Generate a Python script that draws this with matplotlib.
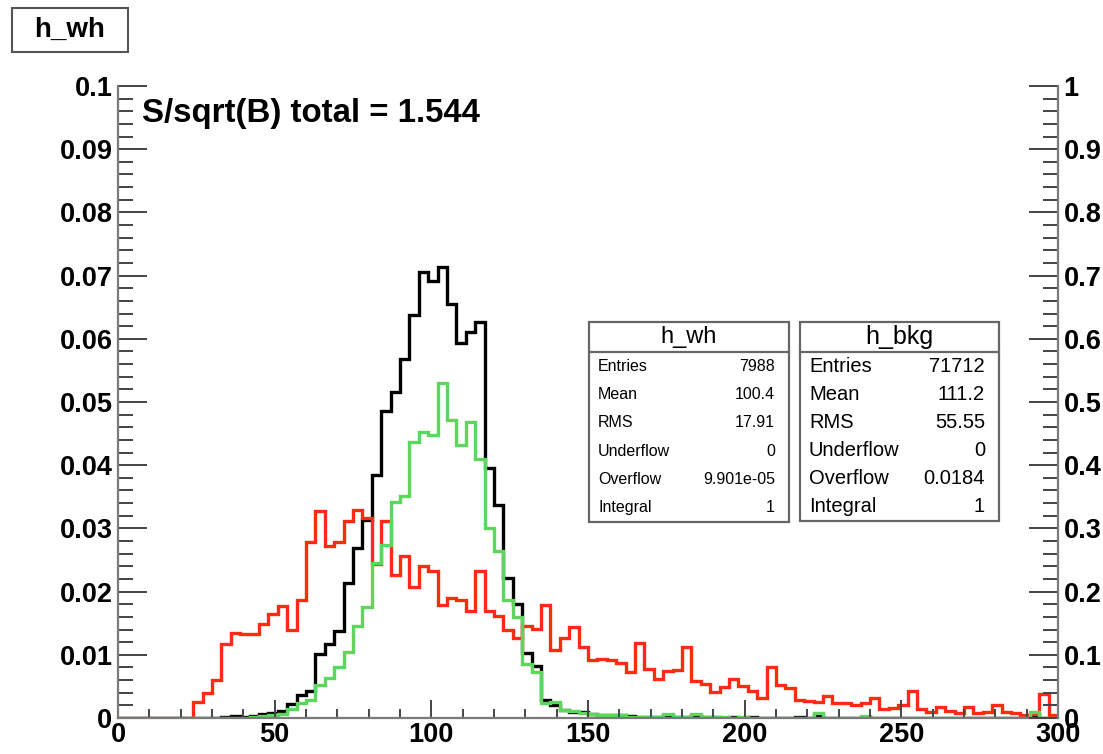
import numpy as np
import matplotlib
matplotlib.use('Agg')
import matplotlib.pyplot as plt
from matplotlib.patches import Rectangle
from matplotlib.lines import Line2D
from matplotlib.ticker import MultipleLocator, FuncFormatter

plt.rcParams['font.family'] = ['Liberation Sans', 'DejaVu Sans']

# binning: 100 bins of width 3 from 0 to 300
x_min, x_max, n_bins = 0, 300, 100

# normalised signal (black)
h_wh = [
    0, 0, 0, 0, 0, 0, 0, 0, 0, 0,
    0, 0.0001, 0.0003, 0.0002, 0.0003, 0.0007, 0.0008, 0.0011, 0.0022, 0.0036,
    0.0042, 0.0102, 0.0117, 0.0138, 0.0213, 0.0269, 0.0314, 0.0384, 0.0485, 0.0516,
    0.0568, 0.0637, 0.0706, 0.0691, 0.0713, 0.0655, 0.0594, 0.0611, 0.0626, 0.0395,
    0.0337, 0.0221, 0.0180, 0.0103, 0.0082, 0.0028, 0.0021, 0.0013, 0.0010, 0.0009,
    0.0006, 0.0005, 0.0005, 0.0004, 0.0003, 0.0002, 0.0002, 0.0001, 0.0003, 0.0001,
    0.0001, 0.0003, 0.0001, 0.0001, 0, 0.0001, 0, 0.0001, 0, 0,
    0, 0, 0.0001, 0, 0.0004, 0, 0, 0, 0, 0.0001,
    0, 0, 0, 0, 0, 0, 0, 0, 0, 0,
    0, 0, 0, 0, 0, 0, 0, 0.0004, 0, 0,
]

# normalised background (red)
h_bkg = [
    0, 0, 0, 0, 0, 0, 0, 0, 0.0025, 0.0040,
    0.0060, 0.0117, 0.0135, 0.0133, 0.0133, 0.0148, 0.0165, 0.0178, 0.0140, 0.0187,
    0.0279, 0.0327, 0.0272, 0.0278, 0.0311, 0.0329, 0.0316, 0.0243, 0.0311, 0.0227,
    0.0256, 0.0208, 0.0240, 0.0232, 0.0179, 0.0190, 0.0187, 0.0169, 0.0232, 0.0170,
    0.0162, 0.0140, 0.0126, 0.0145, 0.0141, 0.0179, 0.0107, 0.0127, 0.0144, 0.0112,
    0.0091, 0.0093, 0.0091, 0.0087, 0.0072, 0.0119, 0.0078, 0.0062, 0.0074, 0.0076,
    0.0112, 0.0058, 0.0054, 0.0041, 0.0049, 0.0061, 0.0050, 0.0042, 0.0032, 0.0081,
    0.0053, 0.0048, 0.0028, 0.0027, 0.0025, 0.0035, 0.0024, 0.0023, 0.0020, 0.0023,
    0.0031, 0.0015, 0.0016, 0.0020, 0.0042, 0.0015, 0.0010, 0.0018, 0.0011, 0.0008,
    0.0017, 0.0008, 0.0010, 0.0021, 0.0010, 0.0008, 0.0005, 0.0007, 0.0038, 0.0004,
]

# signal after selection (green)
h_wh_sel = [
    0, 0, 0, 0, 0, 0, 0, 0, 0, 0,
    0, 0, 0, 0, 0.0001, 0.0003, 0.0004, 0.0006, 0.0014, 0.0024,
    0.0028, 0.0053, 0.0064, 0.0080, 0.0105, 0.0145, 0.0175, 0.0246, 0.0274, 0.0341,
    0.0351, 0.0437, 0.0453, 0.0447, 0.0530, 0.0472, 0.0432, 0.0469, 0.0410, 0.0300,
    0.0264, 0.0187, 0.0160, 0.0086, 0.0073, 0.0023, 0.0025, 0.0013, 0.0011, 0.0008,
    0.0007, 0.0005, 0.0004, 0.0004, 0.0002, 0.0001, 0.0001, 0.0001, 0.0006, 0.0001,
    0.0001, 0.0006, 0.0002, 0.0001, 0.0001, 0, 0.0001, 0, 0, 0,
    0, 0, 0, 0, 0.0008, 0, 0, 0, 0, 0.0003,
    0, 0, 0, 0, 0, 0, 0, 0, 0, 0,
    0, 0, 0, 0, 0, 0, 0, 0.0010, 0, 0,
]

stat_names = ['Entries', 'Mean', 'RMS', 'Underflow', 'Overflow', 'Integral']
wh_stats = ['7988', '100.4', '17.91', '0', '9.901e-05', '1']
bkg_stats = ['71712', '111.2', '55.55', '0', '0.0184', '1']

significance = 1.544

W, H = 1103, 754
fig = plt.figure(figsize=(W / 100, H / 100), dpi=100)
ax = fig.add_axes([118 / W, 1 - 718 / H, 940 / W, 632 / H])

edges = np.linspace(x_min, x_max, n_bins + 1)
ax.stairs(h_wh, edges, color='black', lw=2.4)
ax.stairs(h_bkg, edges, color='#ff2a14', lw=2.4)
ax.stairs(h_wh_sel, edges, color='#5cd65c', lw=2.4)

ax.set_xlim(x_min, x_max)
ax.set_ylim(0, 0.1)

axis_col = '#7a7a7a'
for side in ['left', 'bottom']:
    ax.spines[side].set_color(axis_col)
    ax.spines[side].set_linewidth(1.6)
ax.spines['top'].set_visible(False)
ax.spines['right'].set_visible(False)

fmt = FuncFormatter(lambda v, pos: '%g' % round(v, 4))
ax.xaxis.set_major_locator(MultipleLocator(50))
ax.xaxis.set_minor_locator(MultipleLocator(10))
ax.yaxis.set_major_locator(MultipleLocator(0.01))
ax.yaxis.set_minor_locator(MultipleLocator(0.002))
ax.xaxis.set_major_formatter(fmt)
ax.yaxis.set_major_formatter(fmt)

tick_font = dict(family='Liberation Sans', weight='bold', size=19.5)
ax.tick_params(axis='y', which='major', direction='in', length=21, width=1.4,
               color='#444444', pad=4)
ax.tick_params(axis='y', which='minor', direction='in', length=10.5, width=1.4,
               color='#444444')
ax.tick_params(axis='x', which='major', direction='in', length=13, width=1.4,
               color='#444444', pad=3)
ax.tick_params(axis='x', which='minor', direction='in', length=6.5, width=1.4,
               color='#444444')
for lab in ax.get_xticklabels() + ax.get_yticklabels():
    lab.set(**tick_font)

# right-hand axis 0..1
ax2 = ax.twinx()
ax2.set_ylim(0, 1)
ax2.yaxis.set_major_locator(MultipleLocator(0.1))
ax2.yaxis.set_minor_locator(MultipleLocator(0.02))
ax2.yaxis.set_major_formatter(fmt)
for side in ['left', 'bottom', 'top']:
    ax2.spines[side].set_visible(False)
ax2.spines['right'].set_color(axis_col)
ax2.spines['right'].set_linewidth(1.6)
ax2.tick_params(axis='y', which='major', direction='in', length=21, width=1.4,
                color='#444444', pad=4)
ax2.tick_params(axis='y', which='minor', direction='in', length=10.5, width=1.4,
                color='#444444')
for lab in ax2.get_yticklabels():
    lab.set(**tick_font)

ax.text(0.0255, 0.957, 'S/sqrt(B) total = %.3f' % significance,
        transform=ax.transAxes, ha='left', va='center',
        fontsize=23.8, fontweight='bold')

# title box
fig.patches.append(Rectangle((12 / W, 1 - 52 / H), 116 / W, 44 / H,
                             transform=fig.transFigure, facecolor='white',
                             edgecolor='#555555', lw=1.5))
fig.text(70 / W, 1 - 30 / H, 'h_wh', ha='center', va='center',
         fontsize=20, fontweight='bold')


def stats_box(x0, x1, y0, y1, title, values, size, title_size):
    fig.patches.append(Rectangle((x0 / W, 1 - y1 / H), (x1 - x0) / W,
                                 (y1 - y0) / H, transform=fig.transFigure,
                                 facecolor='white', edgecolor='#666666',
                                 lw=1.6, zorder=5))
    sep = y0 + 30
    fig.add_artist(Line2D([x0 / W, x1 / W], [1 - sep / H, 1 - sep / H],
                          color='#666666', lw=1.6, zorder=6))
    fig.text((x0 + x1) / 2 / W, 1 - (y0 + 15) / H, title, ha='center',
             va='center', fontsize=title_size, zorder=7)
    row_h = (y1 - sep) / len(values)
    for i, (name, val) in enumerate(zip(stat_names, values)):
        yy = 1 - (sep + row_h * (i + 0.5)) / H
        fig.text((x0 + 9) / W, yy, name, ha='left', va='center',
                 fontsize=size, zorder=7)
        fig.text((x1 - 14) / W, yy, val, ha='right', va='center',
                 fontsize=size, zorder=7)


stats_box(589, 789, 322, 522, 'h_wh', wh_stats, 11.5, 17)
stats_box(800, 999, 322, 521, 'h_bkg', bkg_stats, 14.5, 18)

fig.savefig('out.png', dpi=100)
